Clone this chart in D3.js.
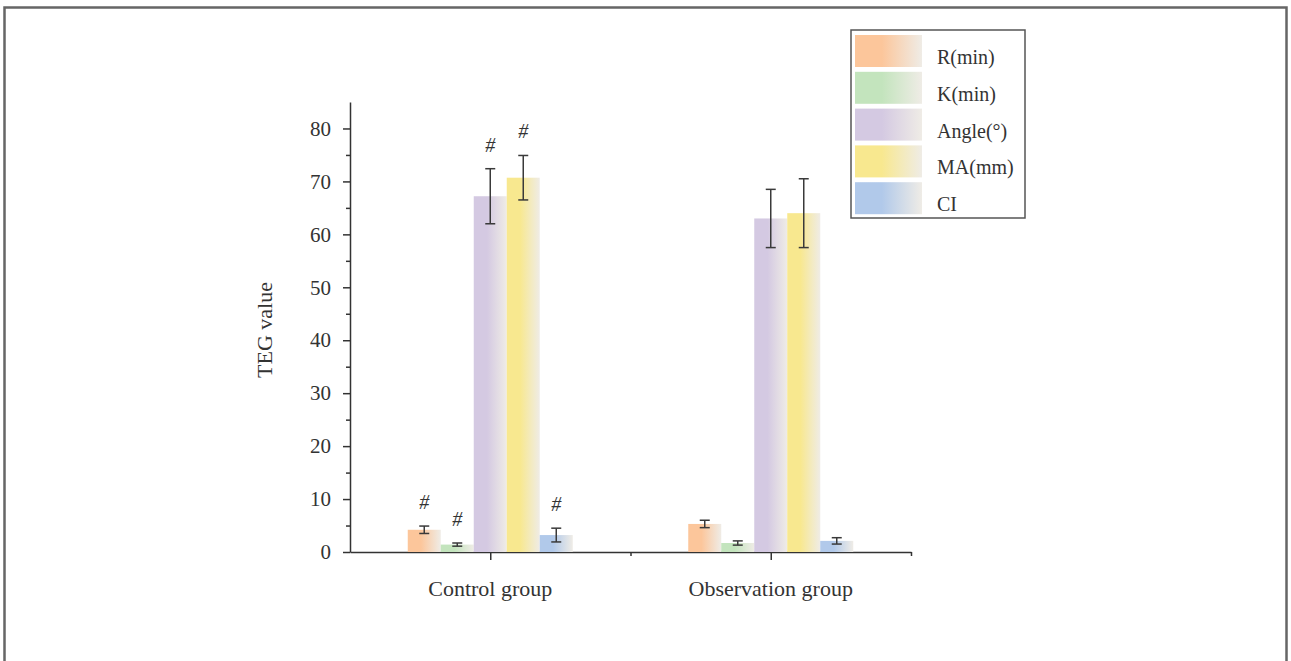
<!DOCTYPE html>
<html>
<head>
<meta charset="utf-8">
<script src="https://cdn.jsdelivr.net/npm/d3@7"></script>
<style>
    body { margin: 0; background: #fff; }
    svg text { font-family: "Liberation Serif", "Times New Roman", serif; fill: #333; }
</style>
</head>
<body>
<svg id="chart" width="1291" height="661"></svg>
<script>
// data
const groups = ['Control group', 'Observation group'];
const series = ['R(min)', 'K(min)', 'Angle(°)', 'MA(mm)', 'CI'];
const controlMeans = [4.2, 1.4, 67.2, 70.7, 3.2];
const controlSD = [0.7, 0.3, 5.2, 4.2, 1.3];
const observationMeans = [5.3, 1.7, 63.0, 64.0, 2.1];
const observationSD = [0.7, 0.4, 5.5, 6.5, 0.6];
const controlMarked = [true, true, true, true, true];
const observationMarked = [false, false, false, false, false];
const yTicks = [0, 10, 20, 30, 40, 50, 60, 70, 80];

const colors = ['#fcc69b', '#c3e4bd', '#d4c9e2', '#f8e88f', '#b1c9ea'];
const fadeTo = '#efece6';

const rows = [];
groups.forEach((g, gi) => {
    const means = gi === 0 ? controlMeans : observationMeans;
    const sds = gi === 0 ? controlSD : observationSD;
    const marks = gi === 0 ? controlMarked : observationMarked;
    series.forEach((s, si) => {
        rows.push({ group: g, gi: gi, series: s, si: si, mean: means[si], sd: sds[si], mark: marks[si] });
    });
});

const svg = d3.select('#chart');

// outer frame
svg.append('rect')
    .attr('x', 4.5).attr('y', 7.5)
    .attr('width', 1282).attr('height', 700)
    .attr('fill', 'none')
    .attr('stroke', '#666')
    .attr('stroke-width', 2.5);

const defs = svg.append('defs');
series.forEach((s, i) => {
    const grad = defs.append('linearGradient')
        .attr('id', 'grad' + i)
        .attr('x1', '0').attr('x2', '1').attr('y1', '0').attr('y2', '0');
    grad.append('stop').attr('offset', '0').attr('stop-color', colors[i]);
    grad.append('stop').attr('offset', '0.4').attr('stop-color', colors[i]);
    grad.append('stop').attr('offset', '1').attr('stop-color', fadeTo);
});

const y = d3.scaleLinear().domain([0, 85]).range([552, 102]);
const x = d3.scaleLinear().domain([0.5, 2.5]).range([350, 911]);
const inner = d3.scaleBand().domain(series).range([-82.5, 82.5]).paddingInner(0);

// y axis with minor ticks
const yAxis = svg.append('g')
    .attr('transform', 'translate(350,0)')
    .call(d3.axisLeft(y).tickValues(yTicks).tickSize(7).tickPadding(12).tickSizeOuter(0));
svg.append('g')
    .attr('transform', 'translate(350,0)')
    .call(d3.axisLeft(y).tickValues(d3.range(5, 85, 10)).tickSize(4).tickFormat('').tickSizeOuter(0))
    .select('.domain').remove();

// x axis
svg.append('g')
    .attr('transform', 'translate(0,552)')
    .call(d3.axisBottom(x).tickValues([1, 2]).tickSize(8).tickFormat('').tickSizeOuter(0));
svg.append('g')
    .attr('transform', 'translate(0,552)')
    .call(d3.axisBottom(x).tickValues([1.5, 2.5]).tickSize(4).tickFormat('').tickSizeOuter(0))
    .select('.domain').remove();

svg.selectAll('.domain, .tick line').attr('stroke', '#333').attr('stroke-width', 1.5);
yAxis.selectAll('.tick text').attr('font-size', 21).style('fill', '#333');

svg.selectAll('.group-label')
    .data(groups)
    .enter()
    .append('text')
    .attr('class', 'group-label')
    .attr('x', (d, i) => x(i + 1))
    .attr('y', 596)
    .attr('text-anchor', 'middle')
    .attr('font-size', 22)
    .text(d => d);

svg.append('text')
    .attr('transform', 'translate(272,330) rotate(-90)')
    .attr('text-anchor', 'middle')
    .attr('font-size', 22)
    .text('TEG value');

// bars
svg.selectAll('.bar')
    .data(rows)
    .enter()
    .append('rect')
    .attr('class', 'bar')
    .attr('x', d => x(d.gi + 1) + inner(d.series))
    .attr('y', d => y(d.mean))
    .attr('width', inner.bandwidth())
    .attr('height', d => y(0) - y(d.mean))
    .attr('fill', d => 'url(#grad' + d.si + ')');

// error bars
const err = svg.selectAll('.err')
    .data(rows)
    .enter()
    .append('g')
    .attr('class', 'err')
    .attr('transform', d => `translate(${x(d.gi + 1) + inner(d.series) + inner.bandwidth() / 2},0)`)
    .attr('stroke', '#3a3a3a')
    .attr('stroke-width', 1.5);
err.append('line')
    .attr('y1', d => y(d.mean - d.sd)).attr('y2', d => y(d.mean + d.sd));
err.append('line')
    .attr('x1', -5).attr('x2', 5)
    .attr('y1', d => y(d.mean + d.sd)).attr('y2', d => y(d.mean + d.sd));
err.append('line')
    .attr('x1', -5).attr('x2', 5)
    .attr('y1', d => y(d.mean - d.sd)).attr('y2', d => y(d.mean - d.sd));

svg.selectAll('.hash')
    .data(rows.filter(d => d.mark))
    .enter()
    .append('text')
    .attr('class', 'hash')
    .attr('x', d => x(d.gi + 1) + inner(d.series) + inner.bandwidth() / 2)
    .attr('y', d => y(d.mean + d.sd) - 17)
    .attr('text-anchor', 'middle')
    .attr('font-size', 20)
    .attr('font-style', 'italic')
    .text('#');

// legend
const legend = svg.append('g').attr('transform', 'translate(851,30)');
legend.append('rect')
    .attr('width', 174).attr('height', 188)
    .attr('fill', '#fff')
    .attr('stroke', '#555')
    .attr('stroke-width', 1.5);
const item = legend.selectAll('.item')
    .data(series)
    .enter()
    .append('g')
    .attr('transform', (d, i) => `translate(4,${5 + i * 36.8})`);
item.append('rect')
    .attr('width', 67).attr('height', 32)
    .attr('fill', (d, i) => 'url(#grad' + i + ')');
item.append('text')
    .attr('x', 82).attr('y', 29)
    .attr('font-size', 20)
    .text(d => d);
</script>
</body>
</html>
